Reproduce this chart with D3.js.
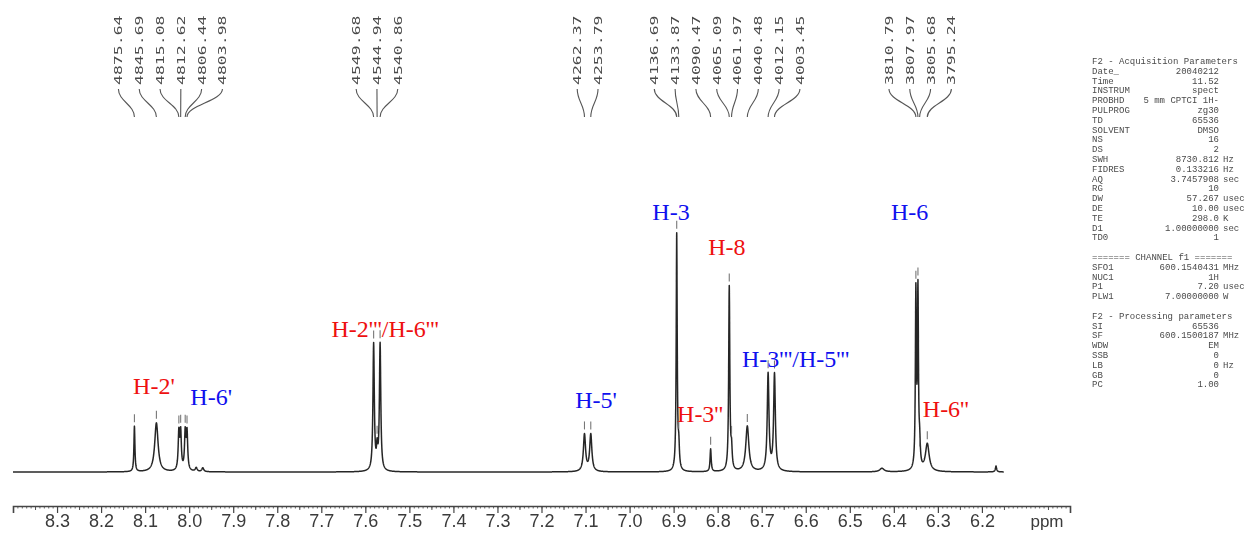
<!DOCTYPE html>
<html>
<head>
<meta charset="utf-8">
<script src="https://cdn.jsdelivr.net/npm/d3@7"></script>
<style>
body { margin: 0; background: #fff; }
svg { display: block; }
</style>
</head>
<body>
<svg id="chart" width="1245" height="542"></svg>
<script>
'use strict'

// spectrometer frequency, MHz (peak labels are in Hz)
const sf = 600.13

// picked peaks
const peakHz = [4875.64, 4845.69, 4815.08, 4812.62, 4806.44, 4803.98,
    4549.68, 4544.94, 4540.86,
    4262.37, 4253.79,
    4136.69, 4133.87, 4090.47, 4065.09, 4061.97, 4040.48, 4012.15, 4003.45,
    3810.79, 3807.97, 3805.68, 3795.24]
// relative heights (H-3 = 100) and line widths in Hz, estimated from the plot
const peakHeight = [19, 20.5, 15.5, 15.5, 15.5, 15.5,
    53, 8, 53,
    15.5, 15.5,
    99, 9, 9.5, 77, 8, 19, 40.5, 40.5,
    73, 73, 9, 11.5]
const peakWidthHz = [1.6, 5.5, 2.2, 2.2, 2.2, 2.2,
    2.2, 2, 2.2,
    3.5, 3.5,
    1.6, 2, 1.8, 1.8, 2, 5, 2.8, 2.8,
    1.6, 1.6, 2, 6]
// how many labels in each bracket
const peakGroups = [6, 3, 2, 8, 4]

// small unlabelled bumps
const minorPpm = [7.984, 7.969, 6.427, 6.168]
const minorHeight = [1.6, 1.6, 1.5, 2.5]
const minorWidthHz = [3, 3, 7, 2]

const axisTicks = [8.3, 8.2, 8.1, 8.0, 7.9, 7.8, 7.7, 7.6, 7.5, 7.4, 7.3,
    7.2, 7.1, 7.0, 6.9, 6.8, 6.7, 6.6, 6.5, 6.4, 6.3, 6.2]

// assignments: text, ppm and level of the label, ring
const labelText = ["H-2'", "H-6'", "H-2'''/H-6'''", "H-5'", "H-3", "H-8",
    "H-3''", "H-3'''/H-5'''", "H-6", "H-6''"]
const labelPpm = [8.080, 7.950, 7.555, 7.076, 6.906, 6.779, 6.840, 6.623, 6.364, 6.282]
const labelLevel = [32.6, 28.0, 56.5, 26.8, 105.4, 90.8, 20.9, 43.9, 105.4, 23.0]
const labelRing = ['B', 'A', 'B', 'A', 'A', 'B', 'B', 'A', 'A', 'B']

// parameter listing on the right
const paramNames = ['F2 - Acquisition Parameters', 'Date_', 'Time', 'INSTRUM', 'PROBHD',
    'PULPROG', 'TD', 'SOLVENT', 'NS', 'DS', 'SWH', 'FIDRES', 'AQ', 'RG', 'DW', 'DE',
    'TE', 'D1', 'TD0', '', '======= CHANNEL f1 =======', 'SFO1', 'NUC1', 'P1',
    'PLW1', '', 'F2 - Processing parameters', 'SI', 'SF', 'WDW', 'SSB', 'LB', 'GB', 'PC']
const paramValues = ['', '20040212', '11.52', 'spect', '5 mm CPTCI 1H-',
    'zg30', '65536', 'DMSO', '16', '2', '8730.812', '0.133216', '3.7457908', '10', '57.267', '10.00',
    '298.0', '1.00000000', '1', '', '', '600.1540431', '1H', '7.20',
    '7.00000000', '', '', '65536', '600.1500187', 'EM', '0', '0', '0', '1.00']
const paramUnits = ['', '', '', '', '',
    '', '', '', '', '', 'Hz', 'Hz', 'sec', '', 'usec', 'usec',
    'K', 'sec', '', '', '', 'MHz', '', 'usec',
    'W', '', '', '', 'MHz', '', '', 'Hz', '', '']

const ringColor = { A: '#1010ee', B: '#ee1010' }

const svg = d3.select('#chart')

const defs = svg.append('defs')
defs.append('filter').attr('id', 'soft')
    .append('feGaussianBlur').attr('stdDeviation', 0.45)
defs.append('filter').attr('id', 'softer')
    .append('feGaussianBlur').attr('stdDeviation', 0.6)

const x = d3.scaleLinear().domain([8.4, 6.0]).range([13, 1070])
const y = d3.scaleLinear().domain([0, 100]).range([472, 233])

const peaks = peakHz.map((hz, i) => ({
    ppm: hz / sf,
    hz: hz,
    h: peakHeight[i],
    hw: peakWidthHz[i] / 2 / sf
}))
const bumps = minorPpm.map((p, i) => ({ ppm: p, h: minorHeight[i], hw: minorWidthHz[i] / 2 / sf }))
const lines = peaks.concat(bumps)

const intensity = (ppm) => {
    let s = 0
    for (const l of lines) {
        const u = (ppm - l.ppm) / l.hw
        s += l.h / (1 + u * u)
    }
    return s
}

// sample the spectrum, make sure every peak centre is included
const samples = d3.range(8.4, 6.15, -0.0004).concat(lines.map(l => l.ppm))
samples.sort((a, b) => b - a)
const spectrum = samples.map(p => [p, intensity(p)])

svg.append('path')
    .datum(spectrum)
    .attr('fill', 'none')
    .attr('stroke', '#262626')
    .attr('stroke-width', 1.5)
    .attr('stroke-linejoin', 'round')
    .attr('filter', 'url(#soft)')
    .attr('d', d3.line().x(d => x(d[0])).y(d => y(d[1])))

// peak-pick markers
const markerLevel = (p) => {
    const total = intensity(p.ppm)
    return total > 2 * p.h ? p.h : total
}
svg.append('g')
    .selectAll('line')
    .data(peaks)
    .join('line')
    .attr('x1', d => x(d.ppm))
    .attr('x2', d => x(d.ppm))
    .attr('y1', d => y(markerLevel(d)) - 12)
    .attr('y2', d => y(markerLevel(d)) - 4)
    .attr('stroke', '#777')
    .attr('stroke-width', 1.1)

// Hz labels with leader lines
const labelSpacing = 20.8
let start = 0
const hzLabels = []
peakGroups.forEach(n => {
    const group = peaks.slice(start, start + n)
    const cx = d3.mean(group, d => x(d.ppm))
    group.forEach((d, j) => {
        hzLabels.push({ lx: cx + (j - (n - 1) / 2) * labelSpacing, px: x(d.ppm), hz: d.hz })
    })
    start += n
})

const hzG = svg.append('g').attr('filter', 'url(#soft)')
hzG.selectAll('text')
    .data(hzLabels)
    .join('text')
    .attr('transform', d => `translate(${d.lx},85) rotate(-90) scale(1.5,1)`)
    .attr('dy', '0.36em')
    .attr('font-family', 'DejaVu Sans Mono, Liberation Mono, monospace')
    .attr('font-size', 11)
    .attr('fill', '#4a4a4a')
    .text(d => d.hz.toFixed(2))

hzG.selectAll('path')
    .data(hzLabels)
    .join('path')
    .attr('fill', 'none')
    .attr('stroke', '#555')
    .attr('stroke-width', 1.1)
    .attr('d', d => `M${d.lx},89 C${d.lx},101 ${d.px},105 ${d.px},117`)

// ppm ruler
const axisG = svg.append('g')
    .attr('transform', 'translate(0,506)')
    .attr('filter', 'url(#soft)')

axisG.append('g')
    .call(d3.axisBottom(x)
        .tickValues(d3.range(840, 600, -1).map(v => v / 100))
        .tickSize(2.5)
        .tickSizeOuter(0)
        .tickFormat(''))
    .call(g => g.select('.domain').remove())
    .selectAll('line').attr('stroke', '#666')

axisG.append('g')
    .call(d3.axisBottom(x)
        .tickValues(d3.range(835, 600, -10).map(v => v / 100))
        .tickSize(4)
        .tickSizeOuter(0)
        .tickFormat(''))
    .call(g => g.select('.domain').remove())
    .selectAll('line').attr('stroke', '#555')

const mainAxis = axisG.append('g')
    .call(d3.axisBottom(x)
        .tickValues(axisTicks)
        .tickSize(7)
        .tickSizeOuter(7)
        .tickPadding(1)
        .tickFormat(d3.format('.1f')))
mainAxis.select('.domain').attr('stroke', '#444').attr('stroke-width', 1.6)
mainAxis.selectAll('.tick line').attr('stroke', '#444').attr('stroke-width', 1.2)
mainAxis.selectAll('.tick text')
    .attr('font-family', 'Liberation Sans, Arial, sans-serif')
    .attr('font-size', 18)
    .attr('fill', '#3a3a3a')

axisG.append('text')
    .attr('x', 1047)
    .attr('y', 21)
    .attr('text-anchor', 'middle')
    .attr('font-family', 'Liberation Sans, Arial, sans-serif')
    .attr('font-size', 17)
    .attr('fill', '#3a3a3a')
    .text('ppm')

// assignments
svg.append('g')
    .selectAll('text')
    .data(labelText)
    .join('text')
    .attr('x', (d, i) => x(labelPpm[i]))
    .attr('y', (d, i) => y(labelLevel[i]))
    .attr('text-anchor', 'middle')
    .attr('font-family', 'Liberation Serif, Times New Roman, serif')
    .attr('font-size', 24)
    .attr('fill', (d, i) => ringColor[labelRing[i]])
    .text(d => d)

// parameter listing
const params = svg.append('g')
    .attr('font-family', 'Liberation Mono, DejaVu Sans Mono, monospace')
    .attr('font-size', 9)
    .attr('fill', '#4a4a4a')
    .attr('filter', 'url(#softer)')
const rowY = (i) => 64 + i * 9.8

paramNames.forEach((name, i) => {
    if (name) {
        params.append('text').attr('x', 1092).attr('y', rowY(i)).text(name)
    }
    if (paramValues[i]) {
        params.append('text').attr('x', 1219).attr('y', rowY(i))
            .attr('text-anchor', 'end').text(paramValues[i])
    }
    if (paramUnits[i]) {
        params.append('text').attr('x', 1223).attr('y', rowY(i)).text(paramUnits[i])
    }
})
</script>
</body>
</html>
